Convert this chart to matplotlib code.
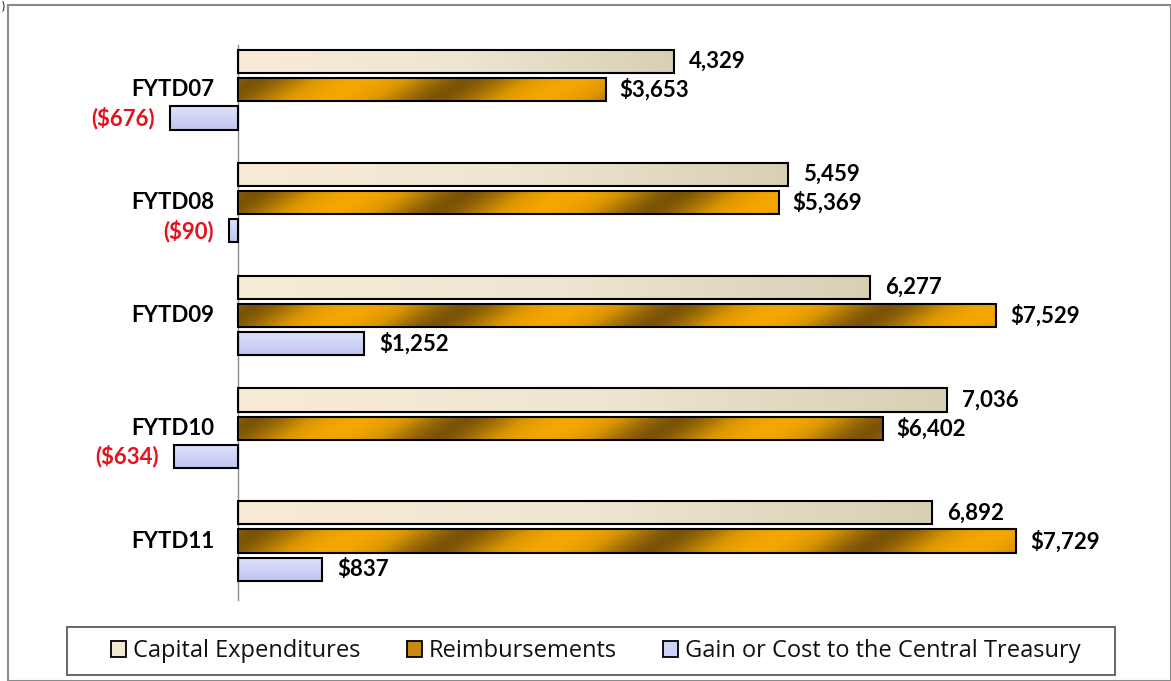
import matplotlib.pyplot as plt
import numpy as np
from matplotlib.colors import LinearSegmentedColormap
from matplotlib.patches import Patch, Rectangle

plt.rcParams['font.family'] = ['Lato', 'DejaVu Sans']

# 数据（单位：百万美元）
years = ["FYTD07", "FYTD08", "FYTD09", "FYTD10", "FYTD11"]
capital = [4329, 5459, 6277, 7036, 6892]
reimburse = [3653, 5369, 7529, 6402, 7729]
gain = [-676, -90, 1252, -634, 837]

legend_names = ["Capital Expenditures", "Reimbursements",
                "Gain or Cost to the Central Treasury"]

BAR_H = 0.82
GROUP_STEP = 4
FS = 16


def fill_gradient(ax, patch, img, cmap):
    # 在柱子内部贴渐变图，按柱子形状裁剪
    x0, y0 = patch.get_x(), patch.get_y()
    w, h = patch.get_width(), patch.get_height()
    im = ax.imshow(img, cmap=cmap, vmin=0, vmax=1, aspect='auto',
                   extent=(x0, x0 + w, y0 + h, y0), origin='upper',
                   interpolation='bilinear', zorder=2)
    im.set_clip_path(patch)


fig = plt.figure(figsize=(11.71, 6.81), dpi=100)
ax = fig.add_axes([100 / 1171, 81 / 681, 1050 / 1171, 555 / 681])

centers = np.arange(len(years)) * GROUP_STEP
cap_bars = ax.barh(centers - 1, capital, height=BAR_H, facecolor='none',
                   edgecolor='black', linewidth=1.5, zorder=3)
rei_bars = ax.barh(centers, reimburse, height=BAR_H, facecolor='none',
                   edgecolor='black', linewidth=1.5, zorder=3)
gain_bars = ax.barh(centers + 1, gain, height=BAR_H, facecolor='none',
                    edgecolor='black', linewidth=1.5, zorder=3)

cream = LinearSegmentedColormap.from_list('cream', ['#f9ecd6', '#efe6d1', '#d8cfb5'])
gold = LinearSegmentedColormap.from_list('gold', ['#7a5306', '#a87406', '#d99500', '#f4a600'])
lav = LinearSegmentedColormap.from_list('lav', ['#dfe2fb', '#bfc6f1'])

px_per_unit = 0.1007
for p in cap_bars:
    n = max(int(abs(p.get_width()) * px_per_unit), 2)
    img = np.tile(np.linspace(0, 1, n), (4, 1))
    fill_gradient(ax, p, img, cream)

for p in rei_bars:
    n = max(int(abs(p.get_width()) * px_per_unit), 2)
    xs = np.arange(n)[None, :]
    ys = np.arange(23)[:, None]
    t = 0.5 + 0.5 * np.cos(2 * np.pi * (xs + 1.6 * ys - 125) / 212.0)
    t = t ** 0.8
    fill_gradient(ax, p, t, gold)

for p in gain_bars:
    img = np.tile(np.linspace(0, 1, 23)[:, None], (1, 4))
    fill_gradient(ax, p, img, lav)

# 数值标签
lab_kw = dict(fontsize=FS, fontweight='bold', va='center')
for c, v in zip(centers, capital):
    ax.annotate(f"{v:,}", (v, c - 1), xytext=(11, 0),
                textcoords='offset points', ha='left', color='black', **lab_kw)
for c, v in zip(centers, reimburse):
    ax.annotate(f"${v:,}", (v, c), xytext=(10, 0),
                textcoords='offset points', ha='left', color='black', **lab_kw)
for c, v in zip(centers, gain):
    if v < 0:
        ax.annotate(f"(${-v:,})", (v, c + 1), xytext=(-11, 0),
                    textcoords='offset points', ha='right', color='#e8101a', **lab_kw)
    else:
        ax.annotate(f"${v:,}", (v, c + 1), xytext=(11, 0),
                    textcoords='offset points', ha='left', color='black', **lab_kw)

# 类别名放在零线左侧
for c, name in zip(centers, years):
    ax.annotate(name, (0, c), xytext=(-17, 0), textcoords='offset points',
                ha='right', va='center', fontsize=FS, fontweight='bold')

ax.set_yticks([])
ax.set_xticks([])
for s in ['top', 'right', 'bottom']:
    ax.spines[s].set_visible(False)
ax.spines['left'].set_position(('data', 0))
ax.spines['left'].set_color('#8c8c8c')
ax.spines['left'].set_linewidth(1.0)

ax.set_xlim((100 - 238) / px_per_unit, (1150 - 238) / px_per_unit)
ax.set_ylim(centers[-1] + 2.09, -1.59)

# 图例（外框单独画）
handles = [Patch(facecolor='#f3e8d3', edgecolor='black', linewidth=1.3),
           Patch(facecolor='#c98a0c', edgecolor='black', linewidth=1.3),
           Patch(facecolor='#cdd2f6', edgecolor='black', linewidth=1.3)]
leg = fig.legend(handles, legend_names, ncol=3, loc='center',
                 bbox_to_anchor=(596 / 1171, 1 - 651 / 681),
                 prop={'family': 'Open Sans', 'size': 17}, frameon=False,
                 handlelength=0.64, handleheight=0.64,
                 handletextpad=0.3, columnspacing=1.95)
for t in leg.get_texts():
    t.set_color('#111111')
fig.patches.append(Rectangle((67 / 1171, 1 - 675 / 681), 1048 / 1171, 48 / 681,
                             transform=fig.transFigure, fill=False,
                             edgecolor='#666666', linewidth=1.4))

# 外框
fig.patches.append(Rectangle((8 / 1171, 0), 1 - 8 / 1171, 1 - 5 / 681,
                             transform=fig.transFigure, fill=False,
                             edgecolor='#8a8a8a', linewidth=1.5))
fig.text(0.001, 0.999, ')', fontsize=8, ha='left', va='top')

fig.savefig('out.png', dpi=100)
